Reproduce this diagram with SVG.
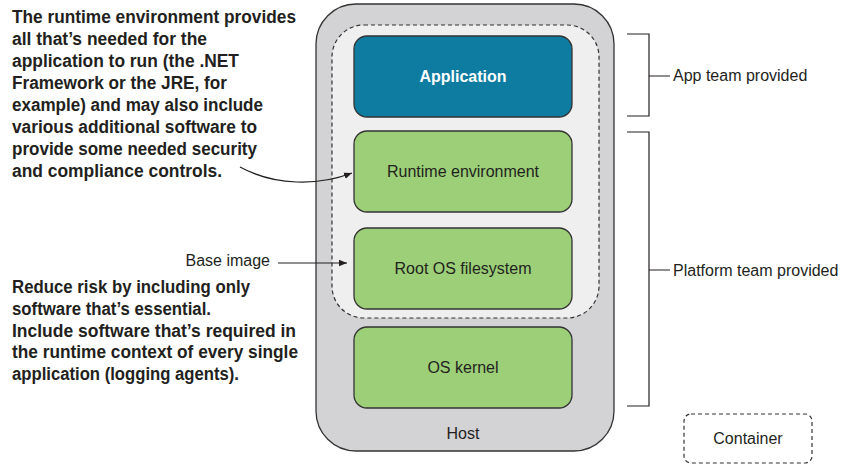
<svg xmlns="http://www.w3.org/2000/svg" width="851" height="474" viewBox="0 0 851 474">
<defs>
<style>
.note{font-family:"Liberation Sans",Arial,sans-serif;font-weight:bold;font-size:18px;fill:#231f20}
.lbl{font-family:"Liberation Sans",Arial,sans-serif;font-size:16px;fill:#231f20}
.box{stroke:#333;stroke-width:1.3}
.green{fill:#9ccf77}
.line{fill:none;stroke:#231f20;stroke-width:1.2}
</style>
<marker id="ah" viewBox="0 0 10 10" refX="10" refY="5" markerWidth="8" markerHeight="8" markerUnits="userSpaceOnUse" orient="auto">
<path d="M0,1 L10,5 L0,9 Z" fill="#231f20"/>
</marker>
</defs>
<rect width="851" height="474" fill="#fff"/>

<g id="host">
<rect x="316" y="4" width="298" height="447" rx="40" fill="#d3d3d5" class="box"/>
<text x="463" y="439" class="lbl" text-anchor="middle">Host</text>
</g>

<g id="container">
<rect x="332" y="25" width="267" height="293" rx="32" fill="#efefef" stroke="#333" stroke-width="1.2" stroke-dasharray="4,3"/>
</g>

<g id="application">
<rect x="354" y="36" width="218" height="81" rx="13" fill="#0e7ba0" class="box"/>
<text x="463" y="82" class="lbl" text-anchor="middle" font-weight="bold" style="fill:#fff">Application</text>
</g>

<g id="runtime">
<rect x="354" y="131" width="218" height="81" rx="13" class="box green"/>
<text x="463" y="177" class="lbl" text-anchor="middle">Runtime environment</text>
</g>

<g id="rootfs">
<rect x="354" y="228" width="218" height="81" rx="13" class="box green"/>
<text x="463" y="274" class="lbl" text-anchor="middle">Root OS filesystem</text>
</g>

<g id="kernel">
<rect x="354" y="327" width="218" height="81" rx="13" class="box green"/>
<text x="463" y="373" class="lbl" text-anchor="middle">OS kernel</text>
</g>

<g id="legend">
<rect x="684" y="414" width="128" height="49" rx="7" fill="none" stroke="#333" stroke-width="1.2" stroke-dasharray="4,3"/>
<text x="748" y="444" class="lbl" text-anchor="middle">Container</text>
</g>

<g id="notes">
<text class="note">
<tspan x="12" y="23" textLength="284" lengthAdjust="spacingAndGlyphs">The runtime environment provides</tspan>
<tspan x="12" y="45" textLength="195" lengthAdjust="spacingAndGlyphs">all that’s needed for the</tspan>
<tspan x="12" y="67" textLength="227" lengthAdjust="spacingAndGlyphs">application to run (the .NET</tspan>
<tspan x="12" y="89" textLength="215" lengthAdjust="spacingAndGlyphs">Framework or the JRE, for</tspan>
<tspan x="12" y="111" textLength="251" lengthAdjust="spacingAndGlyphs">example) and may also include</tspan>
<tspan x="12" y="133" textLength="245" lengthAdjust="spacingAndGlyphs">various additional software to</tspan>
<tspan x="12" y="155" textLength="245" lengthAdjust="spacingAndGlyphs">provide some needed security</tspan>
<tspan x="12" y="177" textLength="210" lengthAdjust="spacingAndGlyphs">and compliance controls.</tspan>
</text>
<text class="note">
<tspan x="12" y="293" textLength="238" lengthAdjust="spacingAndGlyphs">Reduce risk by including only</tspan>
<tspan x="12" y="315" textLength="199" lengthAdjust="spacingAndGlyphs">software that’s essential.</tspan>
<tspan x="12" y="337" textLength="284" lengthAdjust="spacingAndGlyphs">Include software that’s required in</tspan>
<tspan x="12" y="358" textLength="286" lengthAdjust="spacingAndGlyphs">the runtime context of every single</tspan>
<tspan x="12" y="380" textLength="227" lengthAdjust="spacingAndGlyphs">application (logging agents).</tspan>
</text>
<text x="270" y="266" class="lbl" text-anchor="end">Base image</text>
</g>

<g id="brackets">
<path class="line" d="M627,34 H649 V116 H627 M649,76 H670"/>
<text x="673" y="81" class="lbl">App team provided</text>
<path class="line" d="M627,132 H649 V406 H627 M649,270 H670"/>
<text x="673" y="276" class="lbl">Platform team provided</text>
</g>

<g id="connectors">
<path class="line" d="M240,167 C275,186 318,186 352,173" marker-end="url(#ah)"/>
<path class="line" d="M278,263 H347" marker-end="url(#ah)"/>
</g>
</svg>
